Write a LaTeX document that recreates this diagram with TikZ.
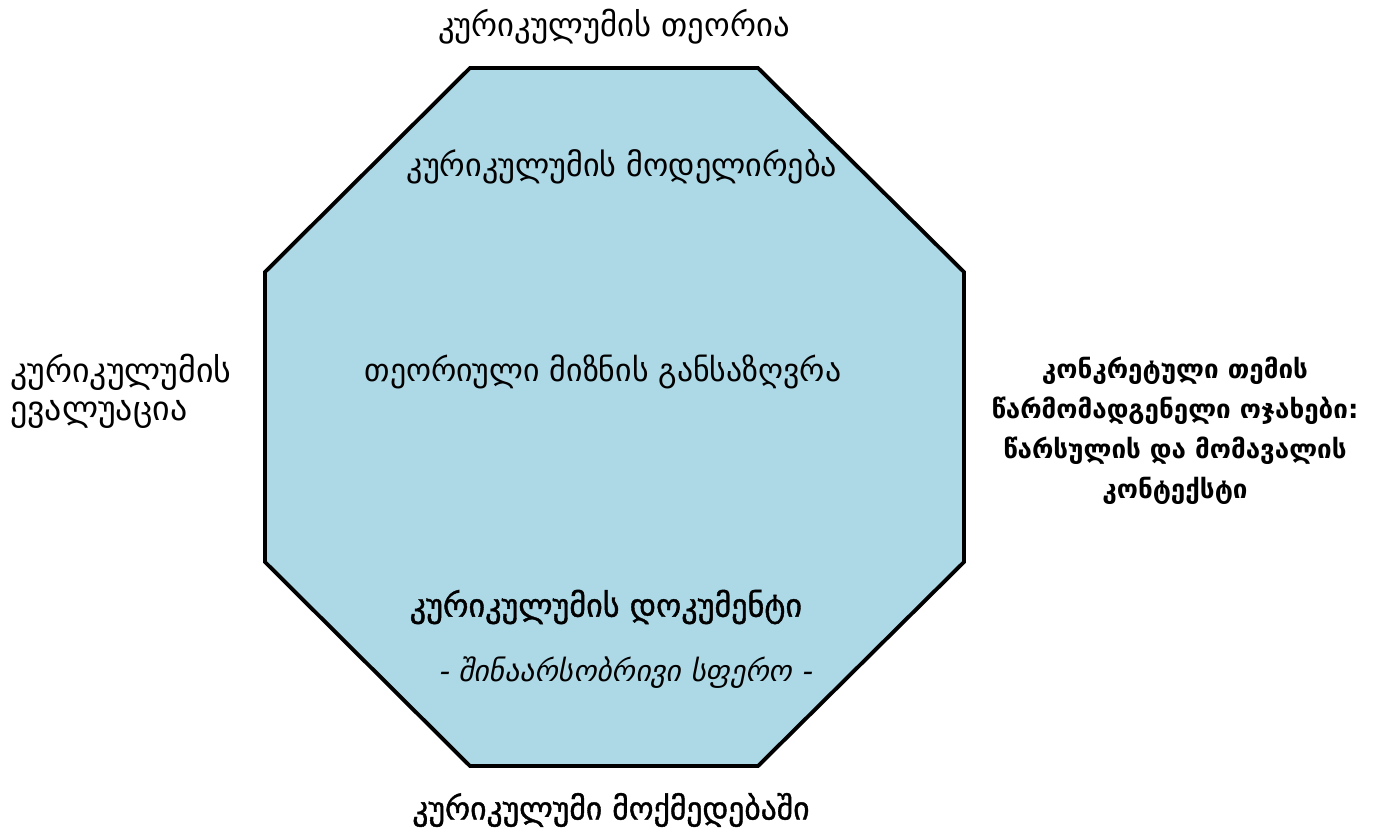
\documentclass[tikz,border=0pt]{standalone}
\usepackage{fontspec}
\setmainfont{DejaVu Sans}
\newfontfamily\geoslant[FakeSlant=0.2]{DejaVu Sans}
\newfontfamily\geobold[FakeBold=1.2]{DejaVu Sans}
\usetikzlibrary{positioning}
\definecolor{OctaBlue}{RGB}{173, 216, 230}

\begin{document}
\begin{tikzpicture}[
    x=0.02cm, y=-0.02cm,
    octa/.style={draw=black, line width=2.2pt, fill=OctaBlue},
    label/.style={font=\fontsize{18.3}{22}\selectfont, inner sep=0pt},
    boldlabel/.style={label, font=\fontsize{14.8}{22.7}\selectfont\bfseries, align=center}
  ]
    \useasboundingbox (0,0) rectangle (1384,829);

    % octagon
    \coordinate (o1) at (470,68);
    \coordinate (o2) at (758,68);
    \coordinate (o3) at (964,272);
    \coordinate (o4) at (964,562);
    \coordinate (o5) at (758,766);
    \coordinate (o6) at (470,766);
    \coordinate (o7) at (265,562);
    \coordinate (o8) at (265,272);
    \draw[octa] (o1) -- (o2) -- (o3) -- (o4) -- (o5) -- (o6) -- (o7) -- (o8) -- cycle;

    \node[label, font=\fontsize{18.6}{22}\selectfont] (theory) at (614,27) {კურიკულუმის თეორია};
    \node[label] (model) at (622,167) {კურიკულუმის მოდელირება};
    \node[label, font=\fontsize{18.1}{22}\selectfont] (aim) at (603,372) {თეორიული მიზნის განსაზღვრა};
    \node[label, align=left, anchor=west, font=\fontsize{19.3}{21.5}\selectfont] (eval) at (10,391) {კურიკულუმის\\ ევალუაცია};
    \node[boldlabel] (families) at (1175,431) {კონკრეტული თემის\\ წარმომადგენელი ოჯახები:\\ წარსულის და მომავალის\\ კონტექსტი};
    \node[label, font=\fontsize{18.3}{22}\selectfont\geobold] (document) at (606,607) {კურიკულუმის დოკუმენტი};
    \node[label, font=\fontsize{16.8}{22}\selectfont\geoslant] (sphere) at (625,673) {- შინაარსობრივი სფერო -};
    \node[label, font=\fontsize{18}{22}\selectfont\geobold] (action) at (611,810) {კურიკულუმი მოქმედებაში};
  \end{tikzpicture}
\end{document}
